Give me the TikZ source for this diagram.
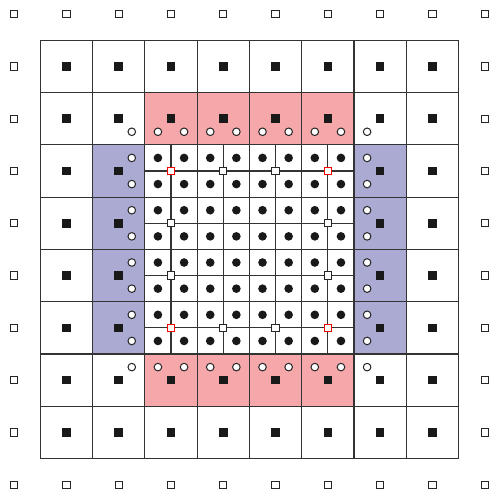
\documentclass[tikz,border=0pt]{standalone}
\usepackage{xcolor}

\definecolor{ghostred}{RGB}{245,167,170}
\definecolor{ghostblue}{RGB}{170,170,210}

\tikzset{
  gridline/.style={draw=black!80, line width=0.6pt},
  coarsept/.style={rectangle, fill=black!90, minimum size=0.165cm, inner sep=0pt},
  outerpt/.style={rectangle, draw=black!85, fill=white, line width=0.55pt, minimum size=0.14cm, inner sep=0pt},
  finept/.style={circle, fill=black!90, minimum size=0.165cm, inner sep=0pt},
  ghostpt/.style={circle, draw=black!85, fill=white, line width=0.55pt, minimum size=0.145cm, inner sep=0pt},
  restpt/.style={outerpt, draw=#1},
}

\begin{document}
\begin{tikzpicture}
\useasboundingbox (-0.77,-0.6) rectangle (8.6,8.77);

% ghost cells of the coarse level
\foreach \i in {2,...,5} {
  \fill[ghostred] (\i,6) rectangle ++(1,1);
  \fill[ghostred] (\i,1) rectangle ++(1,1);
  \fill[ghostblue] (1,\i) rectangle ++(1,1);
  \fill[ghostblue] (6,\i) rectangle ++(1,1);
}

% grids
\draw[gridline] (0,0) grid (8,8);
\foreach \k in {2.5,3.5,4.5,5.5} {
  \draw[gridline] (\k,2) -- (\k,6);
  \draw[gridline] (2,\k) -- (6,\k);
}

% outer ring of points
\foreach \k in {-1,...,8} {
  \node[outerpt] (ob\k) at (\k+0.5,-0.5) {};
  \node[outerpt] (ot\k) at (\k+0.5,8.5) {};
  \node[outerpt] (ol\k) at (-0.5,\k+0.5) {};
  \node[outerpt] (or\k) at (8.5,\k+0.5) {};
}

% coarse cell centres
\foreach \i in {0,...,7}
  \foreach \j in {0,1,6,7}
    \node[coarsept] (c\i\j) at (\i+0.5,\j+0.5) {};
\foreach \i in {0,1,6,7}
  \foreach \j in {2,...,5}
    \node[coarsept] (c\i\j) at (\i+0.5,\j+0.5) {};

% fine cell centres
\foreach \i in {0,...,7}
  \foreach \j in {0,...,7}
    \node[finept] (f\i\j) at (2.25+\i*0.5,2.25+\j*0.5) {};

% coarse points inside the fine patch
\foreach \k in {3.5,4.5} {
  \node[restpt=black!85] (rl\k) at (2.5,\k) {};
  \node[restpt=black!85] (rr\k) at (5.5,\k) {};
  \node[restpt=black!85] (rt\k) at (\k,5.5) {};
  \node[restpt=black!85] (rb\k) at (\k,2.5) {};
}
\node[restpt=red] (r1) at (2.5,5.5) {};
\node[restpt=red] (r2) at (5.5,5.5) {};
\node[restpt=red] (r3) at (2.5,2.5) {};
\node[restpt=red] (r4) at (5.5,2.5) {};

% ghost points
\foreach \i in {2,...,5} {
  \node[ghostpt] (gt\i a) at (\i+0.25,6.25) {};
  \node[ghostpt] (gt\i b) at (\i+0.75,6.25) {};
  \node[ghostpt] (gb\i a) at (\i+0.25,1.75) {};
  \node[ghostpt] (gb\i b) at (\i+0.75,1.75) {};
  \node[ghostpt] (gl\i a) at (1.75,\i+0.25) {};
  \node[ghostpt] (gl\i b) at (1.75,\i+0.75) {};
  \node[ghostpt] (gr\i a) at (6.25,\i+0.25) {};
  \node[ghostpt] (gr\i b) at (6.25,\i+0.75) {};
}
\node[ghostpt] (g1) at (1.75,6.25) {};
\node[ghostpt] (g2) at (6.25,6.25) {};
\node[ghostpt] (g3) at (1.75,1.75) {};
\node[ghostpt] (g4) at (6.25,1.75) {};
\end{tikzpicture}
\end{document}
